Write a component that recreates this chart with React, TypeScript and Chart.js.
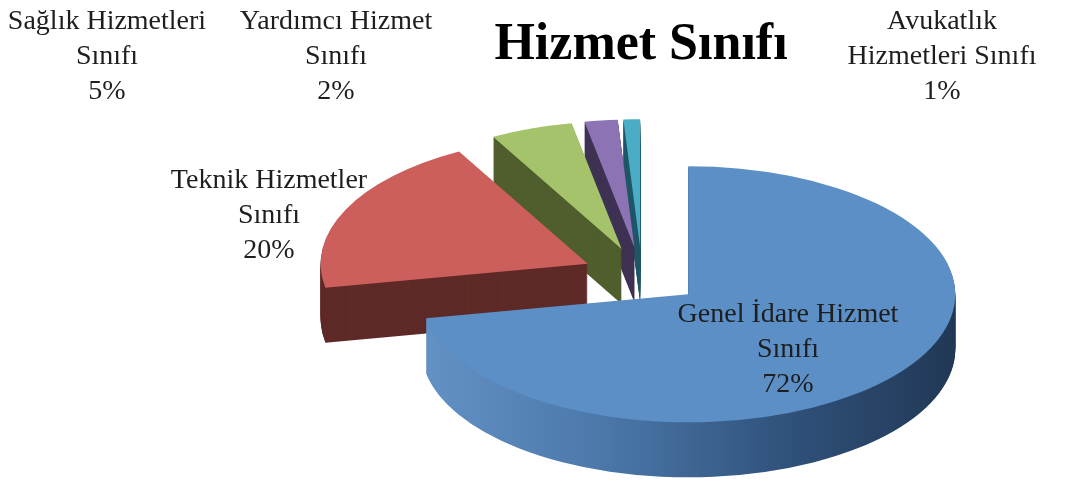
import React, { useEffect, useRef } from 'react';
import { Chart, registerables, ArcElement } from 'chart.js';

Chart.register(...registerables);

// ---- data ----
const TITLE = 'Hizmet Sınıfı';
const CATEGORIES = [
  'Genel İdare Hizmet Sınıfı',
  'Teknik Hizmetler Sınıfı',
  'Sağlık Hizmetleri Sınıfı',
  'Yardımcı Hizmet Sınıfı',
  'Avukatlık Hizmetleri Sınıfı',
];
const VALUES = [72, 20, 5, 2, 1];
const LABEL_LINES = [
  ['Genel İdare Hizmet', 'Sınıfı'],
  ['Teknik Hizmetler', 'Sınıfı'],
  ['Sağlık Hizmetleri', 'Sınıfı'],
  ['Yardımcı Hizmet', 'Sınıfı'],
  ['Avukatlık', 'Hizmetleri Sınıfı'],
];

// ---- styles / layout ----
const TOP_COLORS = ['#5b8fc6', '#cc5f5b', '#a4c36a', '#8c74b4', '#4bacc6'];
const SIDE_COLORS = ['#3e6a96', '#5e2a27', '#4f5e2c', '#3f3254', '#205868'];
const LABEL_ANCHORS = [
  [788, 322],
  [269, 188],
  [107, 29],
  [336, 29],
  [942, 29],
];
const LINE_H = 35;
const RADIUS = 200;
const SX = 267 / RADIUS;
const SY = 128 / RADIUS;
const CENTER_X = 642;
const CENTER_Y = 276;
const EXPLODE = 45;
const DEPTH = 55;

const pie3d = {
  id: 'pie3d',
  beforeDatasetsDraw(chart: any) {
    const ctx: CanvasRenderingContext2D = chart.ctx;
    const arcs: any[] = chart.getDatasetMeta(0).data;
    const order = arcs.map((_: any, i: number) => i).reverse();
    const place = (arc: any, d: number) => {
      const mid = (arc.startAngle + arc.endAngle) / 2;
      const ex = Math.cos(mid) * EXPLODE * SX;
      const ey = Math.sin(mid) * EXPLODE * SY;
      ctx.translate(CENTER_X + ex, CENTER_Y + ey + d);
      ctx.scale(SX, SY);
      ctx.translate(-arc.x, -arc.y);
    };
    const drawFace = (arc: any, fill: any, d: number) => {
      const fake = Object.create(arc);
      fake.options = { ...arc.options, backgroundColor: fill, borderWidth: 0, offset: 0 };
      ctx.save();
      place(arc, d);
      (ArcElement.prototype as any).draw.call(fake, ctx);
      ctx.restore();
    };
    for (const i of order) {
      const arc = arcs[i];
      let fill: any = SIDE_COLORS[i];
      if (i === 0) {
        const g = ctx.createLinearGradient(arc.x - arc.outerRadius, 0, arc.x + arc.outerRadius, 0);
        g.addColorStop(0, '#6592c6');
        g.addColorStop(0.35, '#4a77a8');
        g.addColorStop(0.7, '#2f5079');
        g.addColorStop(1, '#213855');
        fill = g;
      }
      for (let d = DEPTH; d >= 1; d--) drawFace(arc, fill, d);
    }
    for (const i of order) drawFace(arcs[i], TOP_COLORS[i], 0);
    return false;
  },
  afterDraw(chart: any) {
    const ctx: CanvasRenderingContext2D = chart.ctx;
    const total = VALUES.reduce((a, b) => a + b, 0);
    ctx.save();
    ctx.font = '28px "Liberation Serif", "Times New Roman", serif';
    ctx.fillStyle = '#1e1e1e';
    ctx.textAlign = 'center';
    ctx.textBaseline = 'alphabetic';
    VALUES.forEach((v, i) => {
      const lines = [...LABEL_LINES[i], Math.round((v / total) * 100) + '%'];
      const [ax, ay] = LABEL_ANCHORS[i];
      lines.forEach((t, j) => ctx.fillText(t, ax, ay + j * LINE_H));
    });
    ctx.restore();
  },
};

export default function App() {
  const ref = useRef<HTMLCanvasElement>(null);
  useEffect(() => {
    document.body.style.margin = '0';
    const chart = new Chart(ref.current as HTMLCanvasElement, {
      type: 'pie',
      data: {
        labels: CATEGORIES,
        datasets: [
          {
            data: VALUES,
            backgroundColor: TOP_COLORS,
            borderWidth: 0,
          },
        ],
      },
      options: {
        animation: false,
        responsive: true,
        maintainAspectRatio: false,
        radius: RADIUS,
        layout: { padding: { left: 211 } },
        plugins: {
          legend: { display: false },
          tooltip: { enabled: false },
          title: {
            display: true,
            text: TITLE,
            color: '#000',
            font: { family: 'Liberation Serif', size: 52, weight: 'bold' },
            padding: { top: 14, bottom: 0 },
          },
        },
      } as any,
      plugins: [pie3d],
    });
    return () => chart.destroy();
  }, []);
  return (
    <div style={{ position: 'relative', width: 1071, height: 495 }}>
      <canvas ref={ref} />
    </div>
  );
}
